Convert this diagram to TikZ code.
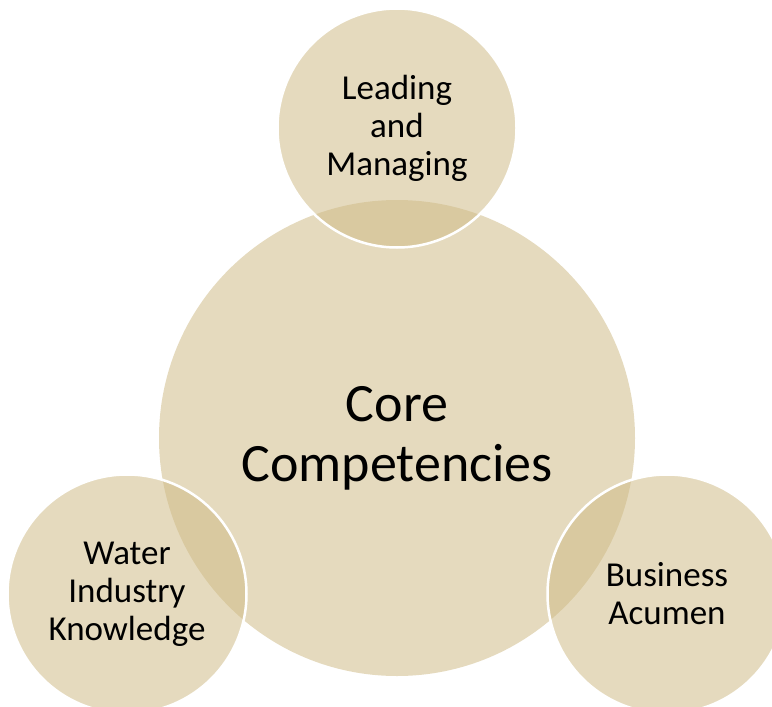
\documentclass[tikz,border=0pt]{standalone}
\usepackage{fontspec}
\setmainfont{Carlito}
\usepackage{xcolor}
\usetikzlibrary{positioning}
\definecolor{tanfill}{RGB}{207,187,135}

\begin{document}
\begin{tikzpicture}[x=1pt, y=-1pt,
    core/.style={circle, fill=tanfill, fill opacity=0.54, text opacity=1, inner sep=0pt, minimum size=476pt, align=center, font=\fontsize{54}{60}\selectfont},
    petal/.style={circle, fill=tanfill, fill opacity=0.54, text opacity=1, draw=white, draw opacity=1, line width=2.5pt, inner sep=0pt, minimum size=239pt, align=center, font=\fontsize{35}{38}\selectfont}]
    \useasboundingbox (0,0) rectangle (772,707);

    % centre circle first, the others lie over it
    \node[core] (core) at (397,438) {Core\\Competencies};

    \node[petal] (lead) at (397,128) {Leading\\and\\Managing};
    \node[petal] (water) at (127,594) {Water\\Industry\\Knowledge};
    \node[petal] (business) at (667,594) {Business\\Acumen};
\end{tikzpicture}
\end{document}
